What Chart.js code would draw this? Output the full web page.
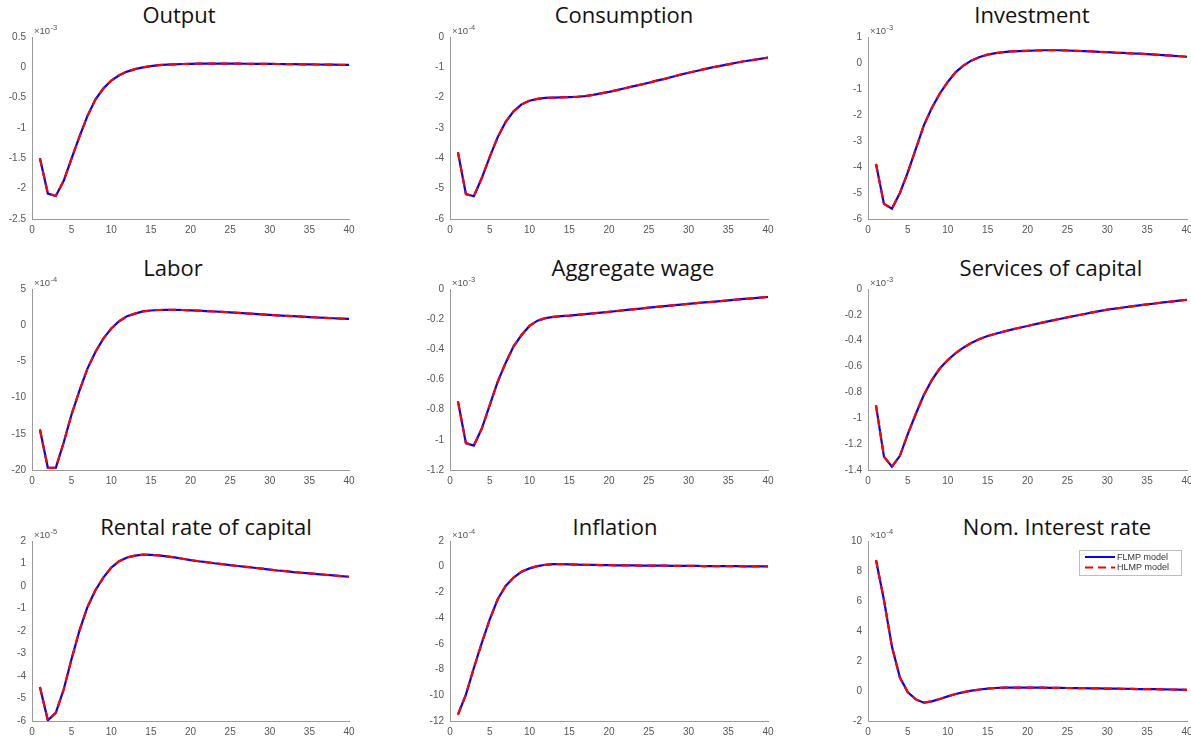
<!DOCTYPE html>
<html>
<head>
<meta charset="utf-8">
<script src="https://cdn.jsdelivr.net/npm/chart.js@4.4.1/dist/chart.umd.min.js"></script>
<style>
  html, body { margin: 0; padding: 0; background: #fff; width: 1191px; height: 740px; overflow: hidden; }
  .panel { position: absolute; }
  .title { position: absolute; font-family: "Open Sans", sans-serif; font-size: 22px; line-height: 22px; color: #111; white-space: nowrap; transform: translateX(-50%); }
</style>
</head>
<body>
<script>
// ---------------- DATA ----------------
const periods = [1,2,3,4,5,6,7,8,9,10,11,12,13,14,15,16,17,18,19,20,21,22,23,24,25,26,27,28,29,30,31,32,33,34,35,36,37,38,39,40];

const panelTitles = ["Output","Consumption","Investment","Labor","Aggregate wage","Services of capital","Rental rate of capital","Inflation","Nom. Interest rate"];
const seriesNames = ["FLMP model","HLMP model"];
const exponents = [-3,-4,-3,-4,-3,-3,-5,-4,-4];
const yMins  = [-2.5,-6,-6,-20,-1.2,-1.4,-6,-12,-2];
const yMaxs  = [0.5,0,1,5,0,0,2,2,10];
const ySteps = [0.5,1,1,5,0.2,0.2,1,2,2];
const xTicks = [0,5,10,15,20,25,30,35,40];

// values in units of 10^exponent
const outputFLMP = [-1.50,-2.08,-2.12,-1.87,-1.50,-1.14,-0.80,-0.53,-0.35,-0.22,-0.13,-0.07,-0.03,0.00,0.02,0.035,0.045,0.05,0.055,0.058,0.06,0.06,0.06,0.06,0.06,0.06,0.059,0.058,0.057,0.056,0.055,0.053,0.052,0.05,0.049,0.047,0.045,0.044,0.042,0.04];
const outputHLMP = [-1.50,-2.08,-2.12,-1.87,-1.50,-1.14,-0.80,-0.53,-0.35,-0.22,-0.13,-0.07,-0.03,0.00,0.02,0.035,0.045,0.05,0.055,0.058,0.06,0.06,0.06,0.06,0.06,0.06,0.059,0.058,0.057,0.056,0.055,0.053,0.052,0.05,0.049,0.047,0.045,0.044,0.042,0.04];

const consumptionFLMP = [-3.80,-5.18,-5.25,-4.65,-3.95,-3.30,-2.80,-2.45,-2.22,-2.10,-2.04,-2.01,-2.00,-1.99,-1.98,-1.97,-1.95,-1.91,-1.86,-1.81,-1.75,-1.69,-1.63,-1.57,-1.51,-1.44,-1.38,-1.31,-1.24,-1.18,-1.12,-1.06,-1.00,-0.95,-0.90,-0.85,-0.80,-0.76,-0.72,-0.68];
const consumptionHLMP = [-3.80,-5.18,-5.25,-4.65,-3.95,-3.30,-2.80,-2.45,-2.22,-2.10,-2.04,-2.01,-2.00,-1.99,-1.98,-1.97,-1.95,-1.91,-1.86,-1.81,-1.75,-1.69,-1.63,-1.57,-1.51,-1.44,-1.38,-1.31,-1.24,-1.18,-1.12,-1.06,-1.00,-0.95,-0.90,-0.85,-0.80,-0.76,-0.72,-0.68];

const investmentFLMP = [-3.88,-5.42,-5.60,-5.00,-4.20,-3.30,-2.40,-1.73,-1.18,-0.73,-0.35,-0.09,0.10,0.23,0.32,0.38,0.42,0.45,0.46,0.47,0.48,0.49,0.49,0.49,0.48,0.47,0.46,0.45,0.43,0.42,0.40,0.39,0.37,0.36,0.34,0.32,0.30,0.28,0.26,0.24];
const investmentHLMP = [-3.88,-5.42,-5.60,-5.00,-4.20,-3.30,-2.40,-1.73,-1.18,-0.73,-0.35,-0.09,0.10,0.23,0.32,0.38,0.42,0.45,0.46,0.47,0.48,0.49,0.49,0.49,0.48,0.47,0.46,0.45,0.43,0.42,0.40,0.39,0.37,0.36,0.34,0.32,0.30,0.28,0.26,0.24];

const laborFLMP = [-14.4,-19.7,-19.7,-16.2,-12.3,-9.0,-6.0,-3.7,-1.85,-0.46,0.55,1.25,1.6,1.9,2.03,2.1,2.12,2.12,2.1,2.05,2.0,1.95,1.89,1.83,1.77,1.70,1.63,1.56,1.49,1.42,1.36,1.30,1.24,1.18,1.12,1.06,1.01,0.96,0.91,0.86];
const laborHLMP = [-14.4,-19.7,-19.7,-16.2,-12.3,-9.0,-6.0,-3.7,-1.85,-0.46,0.55,1.25,1.6,1.9,2.03,2.1,2.12,2.12,2.1,2.05,2.0,1.95,1.89,1.83,1.77,1.70,1.63,1.56,1.49,1.42,1.36,1.30,1.24,1.18,1.12,1.06,1.01,0.96,0.91,0.86];

const wageFLMP = [-0.745,-1.022,-1.038,-0.925,-0.77,-0.615,-0.49,-0.38,-0.305,-0.245,-0.21,-0.193,-0.185,-0.18,-0.177,-0.172,-0.167,-0.162,-0.157,-0.152,-0.146,-0.14,-0.135,-0.13,-0.124,-0.119,-0.114,-0.108,-0.103,-0.098,-0.094,-0.089,-0.085,-0.08,-0.076,-0.071,-0.066,-0.062,-0.057,-0.053];
const wageHLMP = [-0.745,-1.022,-1.038,-0.925,-0.77,-0.615,-0.49,-0.38,-0.305,-0.245,-0.21,-0.193,-0.185,-0.18,-0.177,-0.172,-0.167,-0.162,-0.157,-0.152,-0.146,-0.14,-0.135,-0.13,-0.124,-0.119,-0.114,-0.108,-0.103,-0.098,-0.094,-0.089,-0.085,-0.08,-0.076,-0.071,-0.066,-0.062,-0.057,-0.053];

const capitalFLMP = [-0.90,-1.296,-1.375,-1.29,-1.12,-0.965,-0.82,-0.705,-0.615,-0.55,-0.495,-0.452,-0.416,-0.387,-0.364,-0.346,-0.33,-0.314,-0.3,-0.286,-0.272,-0.258,-0.245,-0.232,-0.219,-0.207,-0.195,-0.183,-0.171,-0.16,-0.152,-0.143,-0.135,-0.127,-0.119,-0.112,-0.104,-0.097,-0.09,-0.083];
const capitalHLMP = [-0.90,-1.296,-1.375,-1.29,-1.12,-0.965,-0.82,-0.705,-0.615,-0.55,-0.495,-0.452,-0.416,-0.387,-0.364,-0.346,-0.33,-0.314,-0.3,-0.286,-0.272,-0.258,-0.245,-0.232,-0.219,-0.207,-0.195,-0.183,-0.171,-0.16,-0.152,-0.143,-0.135,-0.127,-0.119,-0.112,-0.104,-0.097,-0.09,-0.083];

const rentalFLMP = [-4.49,-5.97,-5.64,-4.60,-3.23,-1.97,-0.93,-0.19,0.37,0.82,1.10,1.27,1.35,1.39,1.38,1.36,1.32,1.27,1.21,1.15,1.10,1.06,1.01,0.97,0.93,0.89,0.85,0.81,0.77,0.73,0.69,0.66,0.62,0.59,0.56,0.53,0.50,0.47,0.44,0.41];
const rentalHLMP = [-4.49,-5.97,-5.64,-4.60,-3.23,-1.97,-0.93,-0.19,0.37,0.82,1.10,1.27,1.35,1.39,1.38,1.36,1.32,1.27,1.21,1.15,1.10,1.06,1.01,0.97,0.93,0.89,0.85,0.81,0.77,0.73,0.69,0.66,0.62,0.59,0.56,0.53,0.50,0.47,0.44,0.41];

const inflationFLMP = [-11.5,-9.95,-7.88,-5.93,-4.1,-2.53,-1.49,-0.84,-0.39,-0.13,0.05,0.15,0.2,0.2,0.18,0.16,0.15,0.14,0.13,0.12,0.11,0.1,0.1,0.09,0.09,0.08,0.08,0.07,0.07,0.06,0.06,0.05,0.05,0.05,0.04,0.04,0.03,0.03,0.03,0.02];
const inflationHLMP = [-11.5,-9.95,-7.88,-5.93,-4.1,-2.53,-1.49,-0.84,-0.39,-0.13,0.05,0.15,0.2,0.2,0.18,0.16,0.15,0.14,0.13,0.12,0.11,0.1,0.1,0.09,0.09,0.08,0.08,0.07,0.07,0.06,0.06,0.05,0.05,0.05,0.04,0.04,0.03,0.03,0.03,0.02];

const interestFLMP = [8.73,6.07,2.96,0.9,-0.09,-0.56,-0.78,-0.69,-0.53,-0.36,-0.2,-0.08,0.02,0.1,0.16,0.2,0.22,0.23,0.23,0.23,0.22,0.22,0.21,0.21,0.2,0.19,0.19,0.18,0.17,0.16,0.16,0.15,0.14,0.13,0.13,0.12,0.11,0.1,0.09,0.08];
const interestHLMP = [8.73,6.07,2.96,0.9,-0.09,-0.56,-0.78,-0.69,-0.53,-0.36,-0.2,-0.08,0.02,0.1,0.16,0.2,0.22,0.23,0.23,0.23,0.22,0.22,0.21,0.21,0.2,0.19,0.19,0.18,0.17,0.16,0.16,0.15,0.14,0.13,0.13,0.12,0.11,0.1,0.09,0.08];

const flmpSeries = [outputFLMP, consumptionFLMP, investmentFLMP, laborFLMP, wageFLMP, capitalFLMP, rentalFLMP, inflationFLMP, interestFLMP];
const hlmpSeries = [outputHLMP, consumptionHLMP, investmentHLMP, laborHLMP, wageHLMP, capitalHLMP, rentalHLMP, inflationHLMP, interestHLMP];

// ---------------- LAYOUT ----------------
const colLeft = [32, 450, 868];
const colWidth = [317, 318, 319];
const rowTop = [37, 289, 541];
const rowHeight = [182, 181, 180];
const titleCenterX = [179, 624, 1032, 173, 633, 1051, 206, 615, 1057];
const titleTop = [3, 256, 515];
const PAD_T = 16, PAD_R = 12, Y_W = 40, X_H = 22;
const tickFont = { family: "'Liberation Sans', Arial, sans-serif", size: 10 };
const tickColor = '#555';
const axisColor = '#9a9a9a';

const exponentPlugin = {
  id: 'exponentLabel',
  afterDraw(chart, args, opts) {
    const { ctx, chartArea } = chart;
    ctx.save();
    ctx.fillStyle = tickColor;
    ctx.textBaseline = 'alphabetic';
    ctx.textAlign = 'left';
    ctx.font = "9.5px 'Liberation Sans', Arial, sans-serif";
    const x0 = chartArea.left + 2, y0 = chartArea.top - 3;
    const base = '\u00d710';
    ctx.fillText(base, x0, y0);
    const w = ctx.measureText(base).width;
    ctx.font = "7.5px 'Liberation Sans', Arial, sans-serif";
    ctx.fillText(String(opts.exp), x0 + w + 0.5, y0 - 4);
    ctx.restore();
  }
};

const legendPlugin = {
  id: 'boxLegend',
  afterDraw(chart, args, opts) {
    if (!opts.show) return;
    const { ctx, chartArea } = chart;
    const bw = 102, bh = 25;
    const bx = chartArea.right - 108, by = chartArea.top + 9;
    ctx.save();
    ctx.fillStyle = '#fff';
    ctx.fillRect(bx, by, bw, bh);
    ctx.strokeStyle = '#bdbdbd';
    ctx.lineWidth = 1;
    ctx.strokeRect(bx + 0.5, by + 0.5, bw, bh);
    const ds = chart.data.datasets;
    [0, 1].forEach((di, k) => {
      const d = ds[di];
      const y = by + 7 + k * 10.5;
      ctx.beginPath();
      ctx.strokeStyle = d.borderColor;
      ctx.lineWidth = 2;
      ctx.setLineDash(d.borderDash || []);
      ctx.moveTo(bx + 6, y);
      ctx.lineTo(bx + 36, y);
      ctx.stroke();
      ctx.setLineDash([]);
      ctx.fillStyle = '#333';
      ctx.font = "9px 'Liberation Sans', Arial, sans-serif";
      ctx.textBaseline = 'middle';
      ctx.textAlign = 'left';
      ctx.fillText(d.label, bx + 38, y + 0.5);
    });
    ctx.restore();
  }
};

function fmt(v) { return String(Number(Number(v).toFixed(3))); }

for (let i = 0; i < 9; i++) {
  const r = Math.floor(i / 3), c = i % 3;
  const L = colLeft[c], T = rowTop[r], W = colWidth[c], H = rowHeight[r];

  const t = document.createElement('div');
  t.className = 'title';
  t.style.left = titleCenterX[i] + 'px';
  t.style.top = titleTop[r] + 'px';
  t.textContent = panelTitles[i];
  document.body.appendChild(t);

  const wrap = document.createElement('div');
  wrap.className = 'panel';
  const cw = W + Y_W + PAD_R, chh = H + PAD_T + X_H;
  wrap.style.left = (L - Y_W) + 'px';
  wrap.style.top = (T - PAD_T) + 'px';
  wrap.style.width = cw + 'px';
  wrap.style.height = chh + 'px';
  const cv = document.createElement('canvas');
  cv.width = cw; cv.height = chh;
  cv.style.width = cw + 'px'; cv.style.height = chh + 'px';
  wrap.appendChild(cv);
  document.body.appendChild(wrap);

  new Chart(cv.getContext('2d'), {
    type: 'line',
    data: {
      datasets: [
        { label: seriesNames[0], data: periods.map((p, k) => ({ x: p, y: flmpSeries[i][k] })),
          borderColor: '#0000ff', borderWidth: 2.2, pointRadius: 0, tension: 0, order: 1, fill: false },
        { label: seriesNames[1], data: periods.map((p, k) => ({ x: p, y: hlmpSeries[i][k] })),
          borderColor: '#ff0000', borderWidth: 2.2, borderDash: [8, 5], pointRadius: 0, tension: 0, order: 0, fill: false }
      ]
    },
    options: {
      responsive: false,
      animation: false,
      devicePixelRatio: 1,
      layout: { padding: { left: 0, right: PAD_R, top: PAD_T, bottom: 0 } },
      plugins: {
        legend: { display: false },
        tooltip: { enabled: false },
        exponentLabel: { exp: exponents[i] },
        boxLegend: { show: i === 8 }
      },
      scales: {
        x: {
          type: 'linear', min: xTicks[0], max: xTicks[xTicks.length - 1],
          afterBuildTicks: s => { s.ticks = xTicks.map(v => ({ value: v })); },
          ticks: { font: tickFont, color: tickColor, padding: 5, maxRotation: 0, autoSkip: false },
          grid: { display: false, drawTicks: false, tickLength: 0 },
          border: { display: true, color: axisColor, width: 1 },
          afterFit: s => { s.height = X_H; }
        },
        y: {
          type: 'linear', min: yMins[i], max: yMaxs[i],
          ticks: { stepSize: ySteps[i], font: tickFont, color: tickColor, padding: 6, callback: v => fmt(v), autoSkip: false },
          grid: { display: false, drawTicks: false, tickLength: 0 },
          border: { display: true, color: axisColor, width: 1 },
          afterFit: s => { s.width = Y_W; }
        }
      }
    },
    plugins: [exponentPlugin, legendPlugin]
  });
}
</script>
</body>
</html>
